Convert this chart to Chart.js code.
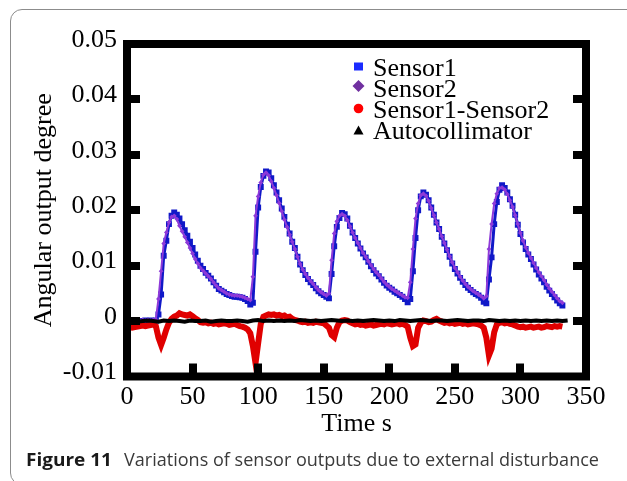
<!DOCTYPE html>
<html>
<head>
<meta charset="utf-8">
<script src="https://cdn.jsdelivr.net/npm/chart.js@4.4.0/dist/chart.umd.min.js"></script>
<style>
  html, body { margin: 0; padding: 0; background: #fff; overflow: hidden; width: 627px; height: 481px; }
  #box { position: absolute; left: 10px; top: 9px; width: 650px; height: 474px; border: 1.5px solid #8c8c8c; border-radius: 12px; }
  #wrap { position: absolute; left: 0; top: 0; width: 627px; height: 481px; }
  #cap { position: absolute; left: 0; top: 450px; width: 627px; height: 22px; font-family: "Open Sans", "Noto Sans", sans-serif; font-size: 18px; line-height: 18px; white-space: nowrap; }
  #cap span { position: absolute; top: 0; display: inline-block; transform-origin: 0 0; }
  #capB { font-weight: bold; color: #1a1a1a; left: 26px; }
  #capR { color: #3a3a3a; left: 124px; }
</style>
</head>
<body>
<div id="box"></div>
<div id="wrap"><canvas id="c" width="627" height="481"></canvas></div>
<div id="cap"><span id="capB">Figure 11</span><span id="capR">Variations of sensor outputs due to external disturbance</span></div>
<script>
// ---- data ----
const sensorTime = [
  0,2,4,6,8,10,12,14,16,18,
  20,22,24,26,28,30,32,34,36,38,
  40,42,44,46,48,50,52,54,56,58,
  60,62,64,66,68,70,72,74,76,78,
  80,82,84,86,88,90,92,94,96,98,
  100,102,104,106,108,110,112,114,116,118,
  120,122,124,126,128,130,132,134,136,138,
  140,142,144,146,148,150,152,154,156,158,
  160,162,164,166,168,170,172,174,176,178,
  180,182,184,186,188,190,192,194,196,198,
  200,202,204,206,208,210,212,214,216,218,
  220,222,224,226,228,230,232,234,236,238,
  240,242,244,246,248,250,252,254,256,258,
  260,262,264,266,268,270,272,274,276,278,
  280,282,284,286,288,290,292,294,296,298,
  300,302,304,306,308,310,312,314,316,318,
  320,322,324,326,328,330,332
];
const sensor1 = [
  0.0000,-0.0001,0.0000,0.0001,0.0000,-0.0001,0.0000,0.0001,0.0000,0.0001,
  0.0000,0.0001,0.0012,0.0048,0.0118,0.0145,0.0175,0.0190,0.0196,0.0192,
  0.0185,0.0175,0.0164,0.0154,0.0143,0.0132,0.0120,0.0109,0.0100,0.0094,
  0.0087,0.0082,0.0077,0.0070,0.0064,0.0058,0.0055,0.0052,0.0049,0.0047,
  0.0045,0.0044,0.0044,0.0043,0.0042,0.0040,0.0036,0.0030,0.0033,0.0125,
  0.0205,0.0242,0.0262,0.0270,0.0268,0.0258,0.0245,0.0232,0.0218,0.0203,
  0.0188,0.0174,0.0158,0.0143,0.0132,0.0116,0.0102,0.0092,0.0083,0.0076,
  0.0070,0.0065,0.0059,0.0054,0.0050,0.0047,0.0044,0.0041,0.0085,0.0135,
  0.0170,0.0186,0.0195,0.0193,0.0185,0.0172,0.0160,0.0150,0.0140,0.0131,
  0.0122,0.0115,0.0107,0.0099,0.0092,0.0086,0.0081,0.0075,0.0069,0.0064,
  0.0060,0.0057,0.0053,0.0050,0.0047,0.0044,0.0040,0.0034,0.0040,0.0090,
  0.0150,0.0200,0.0225,0.0232,0.0228,0.0218,0.0205,0.0192,0.0178,0.0166,
  0.0152,0.0140,0.0128,0.0116,0.0104,0.0094,0.0086,0.0078,0.0071,0.0065,
  0.0060,0.0056,0.0052,0.0049,0.0046,0.0042,0.0035,0.0032,0.0075,0.0115,
  0.0175,0.0215,0.0237,0.0245,0.0240,0.0232,0.0220,0.0208,0.0192,0.0174,
  0.0157,0.0142,0.0130,0.0120,0.0112,0.0102,0.0093,0.0084,0.0077,0.0070,
  0.0062,0.0055,0.0049,0.0043,0.0037,0.0032,0.0028
];
const sensor2 = [
  0.0002,0.0002,0.0001,0.0002,0.0001,0.0001,0.0002,0.0001,0.0002,0.0001,
  0.0002,0.0003,0.0040,0.0090,0.0140,0.0160,0.0178,0.0188,0.0190,0.0184,
  0.0172,0.0162,0.0152,0.0142,0.0132,0.0122,0.0112,0.0104,0.0096,0.0091,
  0.0086,0.0081,0.0076,0.0070,0.0064,0.0059,0.0056,0.0053,0.0050,0.0048,
  0.0047,0.0046,0.0046,0.0045,0.0044,0.0042,0.0040,0.0038,0.0080,0.0190,
  0.0225,0.0250,0.0264,0.0268,0.0263,0.0252,0.0240,0.0227,0.0213,0.0198,
  0.0183,0.0170,0.0156,0.0143,0.0130,0.0116,0.0103,0.0093,0.0085,0.0078,
  0.0072,0.0067,0.0061,0.0056,0.0052,0.0049,0.0046,0.0050,0.0110,0.0158,
  0.0180,0.0190,0.0193,0.0190,0.0182,0.0171,0.0160,0.0150,0.0141,0.0132,
  0.0123,0.0116,0.0108,0.0101,0.0094,0.0088,0.0083,0.0077,0.0071,0.0066,
  0.0062,0.0058,0.0055,0.0052,0.0049,0.0046,0.0043,0.0042,0.0070,0.0130,
  0.0185,0.0212,0.0227,0.0230,0.0226,0.0217,0.0204,0.0191,0.0178,0.0166,
  0.0153,0.0141,0.0129,0.0117,0.0106,0.0096,0.0088,0.0080,0.0073,0.0067,
  0.0062,0.0058,0.0054,0.0051,0.0048,0.0045,0.0041,0.0045,0.0130,0.0175,
  0.0212,0.0230,0.0240,0.0241,0.0237,0.0229,0.0218,0.0206,0.0191,0.0175,
  0.0159,0.0145,0.0133,0.0123,0.0114,0.0105,0.0096,0.0088,0.0081,0.0074,
  0.0066,0.0059,0.0053,0.0047,0.0041,0.0036,0.0033
];
const sensorDiff = [
  -0.0008,-0.0010,-0.0012,-0.0011,-0.0010,-0.0009,-0.0008,-0.0009,-0.0008,-0.0007,
  -0.0006,-0.0009,-0.0030,-0.0043,-0.0030,-0.0015,-0.0003,0.0004,0.0008,0.0010,
  0.0014,0.0012,0.0011,0.0010,0.0012,0.0009,0.0005,0.0002,-0.0002,-0.0003,
  -0.0002,-0.0004,-0.0003,-0.0005,-0.0004,-0.0006,-0.0005,-0.0004,-0.0005,-0.0007,
  -0.0006,-0.0005,-0.0007,-0.0009,-0.0010,-0.0012,-0.0015,-0.0022,-0.0045,-0.0076,
  -0.0040,-0.0005,0.0008,0.0010,0.0012,0.0011,0.0012,0.0010,0.0011,0.0009,
  0.0010,0.0007,0.0008,0.0004,0.0002,0.0001,-0.0001,-0.0002,-0.0001,-0.0003,
  -0.0002,-0.0003,-0.0001,-0.0002,-0.0003,-0.0004,-0.0008,-0.0012,-0.0025,-0.0029,
  -0.0012,-0.0002,0.0001,0.0002,0.0001,-0.0002,-0.0004,-0.0006,-0.0005,-0.0007,
  -0.0006,-0.0008,-0.0007,-0.0006,-0.0008,-0.0007,-0.0006,-0.0005,-0.0006,-0.0004,
  -0.0005,-0.0006,-0.0005,-0.0004,-0.0006,-0.0005,-0.0007,-0.0010,-0.0030,-0.0045,
  -0.0042,-0.0012,-0.0003,0.0001,0.0000,-0.0002,-0.0001,0.0002,0.0004,0.0001,
  -0.0001,-0.0003,-0.0002,-0.0004,-0.0003,-0.0005,-0.0004,-0.0003,-0.0005,-0.0004,
  -0.0006,-0.0005,-0.0004,-0.0005,-0.0006,-0.0008,-0.0012,-0.0030,-0.0062,-0.0050,
  -0.0020,-0.0006,-0.0003,-0.0002,-0.0004,-0.0003,-0.0005,-0.0006,-0.0008,-0.0010,
  -0.0011,-0.0010,-0.0012,-0.0011,-0.0010,-0.0012,-0.0011,-0.0010,-0.0012,-0.0011,
  -0.0009,-0.0010,-0.0011,-0.0009,-0.0010,-0.0009,-0.0010
];
const autoTime = [
  0,4,8,12,16,20,24,28,32,36,
  40,44,48,52,56,60,64,68,72,76,
  80,84,88,92,96,100,104,108,112,116,
  120,124,128,132,136,140,144,148,152,156,
  160,164,168,172,176,180,184,188,192,196,
  200,204,208,212,216,220,224,228,232,236,
  240,244,248,252,256,260,264,268,272,276,
  280,284,288,292,296,300,304,308,312,316,
  320,324,328,332,336
];
const autocollimator = [
  0.0000,0.0001,-0.0001,0.0000,0.0001,0.0000,-0.0001,0.0001,0.0000,0.0001,
  0.0000,-0.0001,0.0001,0.0000,0.0000,0.0001,-0.0001,0.0000,0.0001,0.0000,
  0.0000,0.0001,0.0000,-0.0001,0.0001,0.0002,0.0000,0.0001,0.0000,0.0001,
  0.0000,0.0001,0.0000,0.0002,0.0001,0.0000,0.0001,0.0000,0.0001,0.0002,
  0.0001,0.0000,0.0001,0.0000,0.0001,0.0000,0.0001,0.0002,0.0001,0.0000,
  0.0001,0.0000,0.0002,0.0001,0.0000,0.0001,0.0002,0.0001,0.0000,0.0001,
  0.0001,0.0000,0.0001,0.0002,0.0001,0.0000,0.0001,0.0001,0.0000,0.0002,
  0.0001,0.0000,0.0001,0.0000,0.0001,0.0000,0.0001,0.0000,0.0001,0.0000,
  0.0001,0.0000,0.0001,0.0000,0.0001
];
const seriesLabels = ['Sensor1', 'Sensor2', 'Sensor1-Sensor2', 'Autocollimator'];
const xTitle = 'Time s';
const yTitle = 'Angular output degree';
const xRange = [0, 350];
const yRange = [-0.01, 0.05];

// ---- chart ----
const SERIF = '"Liberation Serif", "Times New Roman", serif';
const pts = (xs, ys) => xs.map((x, i) => ({ x: x, y: ys[i] }));

const framePlugin = {
  id: 'frame',
  afterDatasetsDraw(chart) {
    const { ctx, chartArea: a, scales: { x, y } } = chart;
    ctx.save();
    ctx.strokeStyle = '#000';
    ctx.fillStyle = '#000';
    ctx.lineWidth = 8;
    ctx.lineJoin = 'miter';
    ctx.strokeRect(a.left, a.top, a.right - a.left, a.bottom - a.top);
    y.ticks.forEach(t => {
      if (t.value <= yRange[0] + 1e-9 || t.value >= yRange[1] - 1e-9) return;
      const py = Math.round(y.getPixelForValue(t.value));
      ctx.fillRect(a.left, py - 4, 13, 8);
      ctx.fillRect(a.right - 13, py - 4, 13, 8);
    });
    x.ticks.forEach(t => {
      if (t.value <= xRange[0] || t.value >= xRange[1]) return;
      const px = Math.round(x.getPixelForValue(t.value));
      ctx.fillRect(px - 4, a.bottom - 13, 8, 13);
    });
    ctx.restore();
  }
};

const legendPlugin = {
  id: 'innerLegend',
  afterDraw(chart) {
    const { ctx, chartArea: a } = chart;
    const mx = a.left + 231.5, tx = a.left + 246, base0 = a.top + 31.5, step = 21;
    ctx.save();
    ctx.font = '26px ' + SERIF;
    ctx.textBaseline = 'alphabetic';
    ctx.textAlign = 'left';
    chart.data.datasets.forEach((ds, i) => {
      const b = base0 + i * step;
      ctx.fillStyle = ds.legendColor;
      ctx.beginPath();
      if (ds.legendShape === 'square') {
        ctx.rect(mx - 4.5, b - 13, 9, 8);
      } else if (ds.legendShape === 'diamond') {
        const cy = b - 10.5;
        ctx.moveTo(mx, cy - 6); ctx.lineTo(mx + 6, cy); ctx.lineTo(mx, cy + 6); ctx.lineTo(mx - 6, cy); ctx.closePath();
      } else if (ds.legendShape === 'circle') {
        ctx.arc(mx, b - 9, 4.8, 0, Math.PI * 2);
      } else {
        const cy = b - 8;
        ctx.moveTo(mx, cy - 5); ctx.lineTo(mx + 5, cy + 4); ctx.lineTo(mx - 5, cy + 4); ctx.closePath();
      }
      ctx.fill();
      ctx.fillStyle = '#000';
      ctx.fillText(ds.label, tx, b);
    });
    ctx.restore();
  }
};

new Chart(document.getElementById('c'), {
  type: 'line',
  data: {
    datasets: [
      { label: seriesLabels[0], data: pts(sensorTime, sensor1), order: 4,
        borderColor: '#1018c8', backgroundColor: '#1018c8', borderWidth: 3,
        pointStyle: 'rect', pointRadius: 4.2, pointBorderWidth: 0,
        legendColor: '#1a2bff', legendShape: 'square' },
      { label: seriesLabels[1], data: pts(sensorTime, sensor2), order: 3,
        borderColor: '#8e3ad8', backgroundColor: '#8e3ad8', borderWidth: 2,
        pointStyle: 'rectRot', pointRadius: 2.4, pointBorderWidth: 0,
        legendColor: '#7030a0', legendShape: 'diamond' },
      { label: seriesLabels[2], data: pts(sensorTime, sensorDiff), order: 2,
        borderColor: '#e00000', backgroundColor: '#e00000', borderWidth: 6,
        pointRadius: 0,
        legendColor: '#ff0000', legendShape: 'circle' },
      { label: seriesLabels[3], data: pts(autoTime, autocollimator), order: 1,
        borderColor: '#000', backgroundColor: '#000', borderWidth: 4,
        pointRadius: 0,
        legendColor: '#000', legendShape: 'triangle' }
    ]
  },
  options: {
    responsive: false,
    animation: false,
    devicePixelRatio: 1,
    layout: { padding: { left: 0, right: 41, top: 44, bottom: 41 } },
    elements: { line: { tension: 0 } },
    plugins: { legend: { display: false }, tooltip: { enabled: false } },
    scales: {
      x: {
        type: 'linear', min: xRange[0], max: xRange[1],
        grid: { display: false, drawTicks: false },
        border: { display: false },
        ticks: { stepSize: 50, autoSkip: false, maxRotation: 0, padding: 5, color: '#000',
                 font: { family: SERIF, size: 26 } },
        title: { display: true, text: xTitle, color: '#000', padding: { top: 0, bottom: 0 },
                 font: { family: SERIF, size: 26 } },
        afterFit(s) { s.height = 63.5; }
      },
      y: {
        type: 'linear', min: yRange[0], max: yRange[1],
        grid: { display: false, drawTicks: false },
        border: { display: false },
        ticks: { stepSize: 0.01, padding: 10, labelOffset: -4, color: '#000',
                 font: { family: SERIF, size: 26 },
                 callback: v => { const r = Math.round(v * 100) / 100; return r === 0 ? '0' : r.toFixed(2); } },
        title: { display: true, text: yTitle, color: '#000', padding: { top: 29, bottom: 0 },
                 font: { family: SERIF, size: 26 } },
        afterFit(s) { s.width = 127; }
      }
    }
  },
  plugins: [framePlugin, legendPlugin]
});

// fit caption pieces to the reference widths
function fitSpan(id, w) {
  const el = document.getElementById(id);
  const m = el.getBoundingClientRect().width;
  if (m > 0) el.style.transform = 'scaleX(' + (w / m) + ')';
}
fitSpan('capB', 86);
fitSpan('capR', 475);
</script>
</body>
</html>
